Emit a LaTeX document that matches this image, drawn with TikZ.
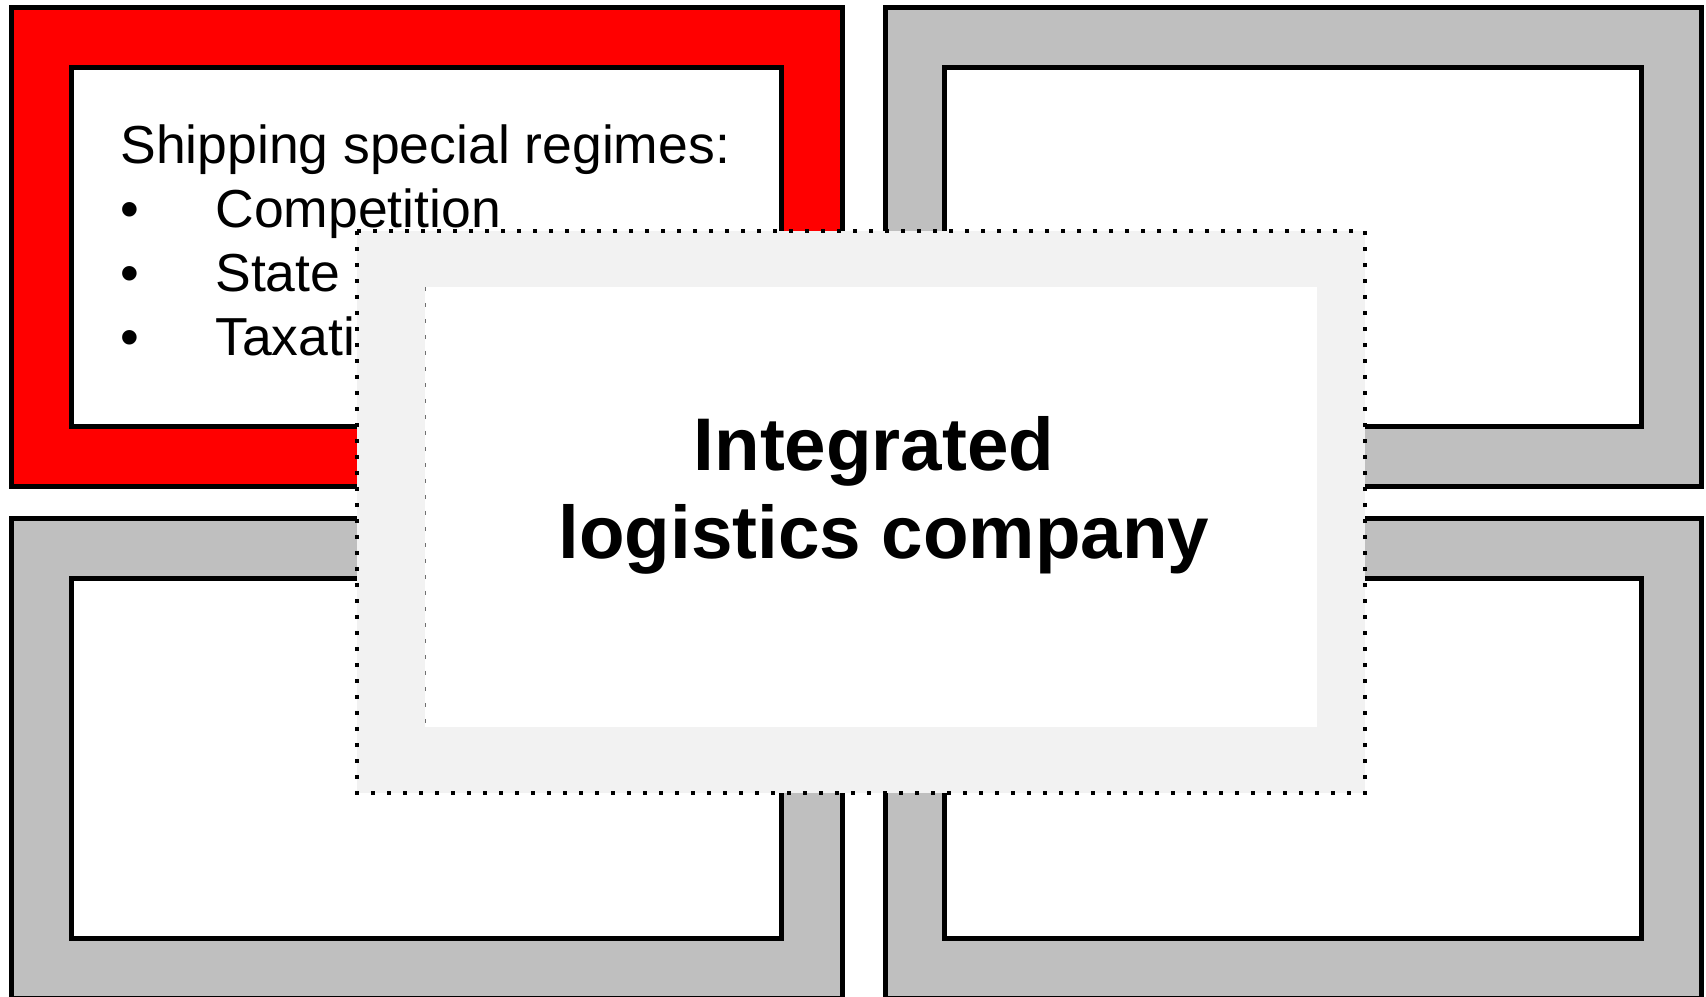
\documentclass[tikz,border=0pt]{standalone}
\usepackage{fontspec}
\setmainfont{Liberation Sans}
\definecolor{boxred}{HTML}{FF0000}
\definecolor{boxgrey}{HTML}{BFBFBF}
\definecolor{paleback}{HTML}{F2F2F2}
\definecolor{edgegrey}{HTML}{707070}
\tikzset{
  outerbox/.style={draw=black, line width=2.5pt},
  innerbox/.style={draw=black, fill=white, line width=2.5pt},
  bodytext/.style={font=\fontsize{26.75}{32}\selectfont, inner sep=0pt, anchor=base west},
  titletext/.style={font=\fontsize{37.3}{44}\selectfont\bfseries, inner sep=0pt, anchor=base},
  dotframe/.style={draw=black, fill=paleback, line width=2pt, dash pattern=on 2pt off 6pt},
  faintedge/.style={draw=edgegrey, line width=0.5pt, dash pattern=on 2pt off 6pt},
}
\begin{document}
\begin{tikzpicture}[x=0.5pt,y=-0.5pt]
\useasboundingbox (0,0) rectangle (1706,996);
\fill[white] (0,0) rectangle (1706,996);
% top-left (red)
\draw[outerbox, fill=boxred] (11,7.5) rectangle (842,486.5);
\draw[innerbox] (71,67.5) rectangle (781,426.5);
% top-right
\draw[outerbox, fill=boxgrey] (885,7.5) rectangle (1701,486.5);
\draw[innerbox] (944.5,67.5) rectangle (1641,426.5);
% bottom-left
\draw[outerbox, fill=boxgrey] (11,518) rectangle (842,998);
\draw[innerbox] (71,578) rectangle (781,938);
% bottom-right
\draw[outerbox, fill=boxgrey] (885,518) rectangle (1701,998);
\draw[innerbox] (944.5,578) rectangle (1641,938);
% text in the red box
\node[bodytext] (head) at (120,163) {Shipping special regimes:};
\node[bodytext] (b1) at (120,227) {•};
\node[bodytext] (t1) at (215,227) {Competition};
\node[bodytext] (b2) at (120,291) {•};
\node[bodytext] (t2) at (215,291) {State aid};
\node[bodytext] (b3) at (120,355) {•};
\node[bodytext] (t3) at (215,355) {Taxation};
% central box
\draw[dotframe] (357,231) rectangle (1365,793);
\fill[white] (425,287) rectangle (1317,727);
\draw[faintedge] (425.5,287) -- (425.5,727);
\node[titletext] (title1) at (874,470) {Integrated};
\node[titletext] (title2) at (884,558) {logistics company};
\end{tikzpicture}
\end{document}
